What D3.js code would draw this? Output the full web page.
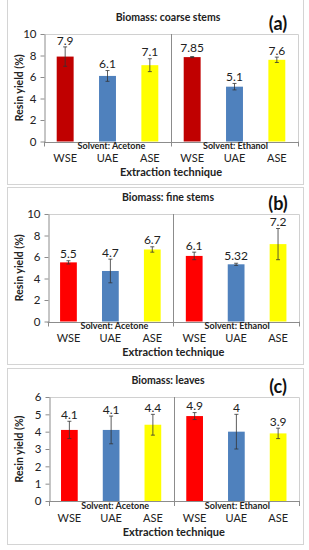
<!DOCTYPE html>
<html>
<head>
<meta charset="utf-8">
<script src="https://cdn.jsdelivr.net/npm/d3@7"></script>
<style>
  body { margin: 0; background: #fff; }
  svg { display: block; font-family: Lato, "Open Sans", sans-serif; }
</style>
</head>
<body>
<div id="chart"></div>
<script>
const techniques = ["WSE", "UAE", "ASE"];
const solvents = ["Solvent: Acetone", "Solvent: Ethanol"];
const panelTitles = ["Biomass: coarse stems", "Biomass: fine stems", "Biomass: leaves"];
const panelTags = ["(a)", "(b)", "(c)"];

// values per bar: acetone WSE, UAE, ASE, then ethanol WSE, UAE, ASE
const coarseValues = [7.9, 6.1, 7.1, 7.85, 5.1, 7.6];
const coarseErrors = [0.9, 0.5, 0.6, 0.05, 0.3, 0.25];
const fineValues = [5.5, 4.7, 6.7, 6.1, 5.32, 7.2];
const fineErrors = [0.15, 1.1, 0.25, 0.35, 0.1, 1.45];
const leavesValues = [4.1, 4.1, 4.4, 4.9, 4, 3.9];
const leavesErrors = [0.5, 0.8, 0.6, 0.2, 1.0, 0.3];

const yMaxes = [10, 10, 6];
const yTicks = [[0, 2, 4, 6, 8, 10], [0, 2, 4, 6, 8, 10], [0, 1, 2, 3, 4, 5, 6]];

const allValues = [coarseValues, fineValues, leavesValues];
const allErrors = [coarseErrors, fineErrors, leavesErrors];

const width = 309, height = 550;
const svg = d3.select("#chart").append("svg")
  .attr("width", width)
  .attr("height", height);

// per panel geometry
const layout = [
  { boxTop: -2, boxBottom: 184, plotTop: 34, plotH: 107.5, left: 44, right: 298, wse: "#c00000" },
  { boxTop: 187, boxBottom: 364, plotTop: 214, plotH: 107.5, left: 47.5, right: 299, wse: "#ff0000" },
  { boxTop: 368, boxBottom: 544, plotTop: 397, plotH: 104, left: 48.5, right: 299, wse: "#ff0000" }
];

const axisGray = "#8c8c8c";

layout.forEach((L, p) => {
  const values = allValues[p];
  const errors = allErrors[p];
  const keys = values.map((v, i) => `${i}`);

  const g = svg.append("g");

  // panel frame
  g.append("rect")
    .attr("x", 7.5)
    .attr("y", L.boxTop + 0.5)
    .attr("width", 296)
    .attr("height", L.boxBottom - L.boxTop)
    .attr("fill", "#fff")
    .attr("stroke", "#d4d4d4")
    .attr("stroke-width", 1);

  const bottom = L.plotTop + L.plotH;

  const x = d3.scaleBand()
    .domain(keys)
    .range([L.left, L.right])
    .paddingInner(0.6)
    .paddingOuter(0.3);

  const y = d3.scaleLinear()
    .domain([0, yMaxes[p]])
    .range([bottom, L.plotTop]);

  // plot area outline (top / right)
  g.append("path")
    .attr("d", `M${L.left},${L.plotTop + 0.5}H${L.right + 0.5}V${bottom}`)
    .attr("fill", "none")
    .attr("stroke", "#d0d0d0");

  // separator between solvent groups
  const sepX = Math.round((L.left + L.right) / 2) + 0.5;
  g.append("line")
    .attr("x1", sepX).attr("x2", sepX)
    .attr("y1", L.plotTop).attr("y2", bottom + 5)
    .attr("stroke", axisGray);
  [L.left, L.right].forEach(xx => {
    g.append("line")
      .attr("x1", Math.round(xx) + 0.5).attr("x2", Math.round(xx) + 0.5)
      .attr("y1", bottom).attr("y2", bottom + 5)
      .attr("stroke", axisGray);
  });

  // y axis
  const yAxis = g.append("g")
    .attr("transform", `translate(${Math.round(L.left) + 0.5},0)`)
    .call(d3.axisLeft(y).tickValues(yTicks[p]).tickFormat(d3.format("d"))
      .tickSize(4).tickPadding(4).tickSizeOuter(0));
  yAxis.select(".domain").attr("stroke", axisGray);
  yAxis.selectAll(".tick line").attr("stroke", axisGray);
  yAxis.selectAll(".tick text")
    .attr("font-size", "11.5px")
    .attr("font-family", "Lato, sans-serif")
    .attr("fill", "#222");

  // x axis baseline
  g.append("line")
    .attr("x1", L.left).attr("x2", L.right + 0.5)
    .attr("y1", Math.round(bottom) + 0.5).attr("y2", Math.round(bottom) + 0.5)
    .attr("stroke", axisGray);

  // bars
  const barColors = [L.wse, "#4f81bd", "#ffff00"];
  g.selectAll(".bar")
    .data(values)
    .enter()
    .append("rect")
    .attr("x", (d, i) => x(keys[i]))
    .attr("y", d => y(d))
    .attr("width", x.bandwidth())
    .attr("height", d => bottom - y(d))
    .attr("fill", (d, i) => barColors[i % 3]);

  // error bars
  const eb = g.selectAll(".err")
    .data(values)
    .enter()
    .append("g");
  eb.append("line")
    .attr("x1", (d, i) => x(keys[i]) + x.bandwidth() / 2)
    .attr("x2", (d, i) => x(keys[i]) + x.bandwidth() / 2)
    .attr("y1", (d, i) => y(d - errors[i]))
    .attr("y2", (d, i) => y(d + errors[i]))
    .attr("stroke", "#333")
    .attr("stroke-width", 0.8);
  [-1, 1].forEach(s => {
    eb.append("line")
      .attr("x1", (d, i) => x(keys[i]) + x.bandwidth() / 2 - 2)
      .attr("x2", (d, i) => x(keys[i]) + x.bandwidth() / 2 + 2)
      .attr("y1", (d, i) => y(d + s * errors[i]))
      .attr("y2", (d, i) => y(d + s * errors[i]))
      .attr("stroke", "#333")
      .attr("stroke-width", 0.8);
  });

  // value labels
  g.selectAll(".val")
    .data(values)
    .enter()
    .append("text")
    .attr("x", (d, i) => x(keys[i]) + x.bandwidth() / 2)
    .attr("y", (d, i) => Math.min(y(d) - 9, y(d + errors[i]) - 6.5))
    .attr("dy", "0.35em")
    .attr("text-anchor", "middle")
    .attr("font-size", "12px")
    .attr("fill", "#222")
    .text(d => String(d));

  // category labels
  g.selectAll(".cat")
    .data(keys)
    .enter()
    .append("text")
    .attr("x", k => x(k) + x.bandwidth() / 2)
    .attr("y", bottom + 16.8)
    .attr("dy", "0.35em")
    .attr("text-anchor", "middle")
    .attr("font-size", "11px")
    .attr("fill", "#222")
    .text((k, i) => techniques[i % 3]);

  // solvent group labels
  solvents.forEach((s, j) => {
    const mid = x(keys[j * 3 + 1]) + x.bandwidth() / 2 + (j === 0 ? 4 : 1);
    g.append("text")
      .attr("x", mid)
      .attr("y", bottom + 4.8)
      .attr("dy", "0.35em")
      .attr("text-anchor", "middle")
      .attr("font-size", "9px")
      .attr("font-weight", "bold")
      .attr("fill", "#222")
      .text(s);
  });

  // titles
  g.append("text")
    .attr("x", 168)
    .attr("y", L.plotTop - 17)
    .attr("dy", "0.35em")
    .attr("text-anchor", "middle")
    .attr("font-size", "10.5px")
    .attr("font-weight", "bold")
    .attr("fill", "#222")
    .text(panelTitles[p]);

  g.append("text")
    .attr("x", 278)
    .attr("y", L.plotTop - 10)
    .attr("dy", "0.35em")
    .attr("text-anchor", "middle")
    .attr("font-size", "18px")
    .attr("font-weight", "bold")
    .attr("fill", "#111")
    .text(panelTags[p]);

  g.append("text")
    .attr("x", (L.left + L.right) / 2)
    .attr("y", bottom + 30.8)
    .attr("dy", "0.35em")
    .attr("text-anchor", "middle")
    .attr("font-size", "11px")
    .attr("font-weight", "bold")
    .attr("fill", "#222")
    .text("Extraction technique");

  g.append("text")
    .attr("transform", `translate(19,${L.plotTop + L.plotH / 2}) rotate(-90)`)
    .attr("dy", "0.35em")
    .attr("text-anchor", "middle")
    .attr("font-size", "10.5px")
    .attr("font-weight", "bold")
    .attr("fill", "#222")
    .text("Resin yield (%)");
});
</script>
</body>
</html>
